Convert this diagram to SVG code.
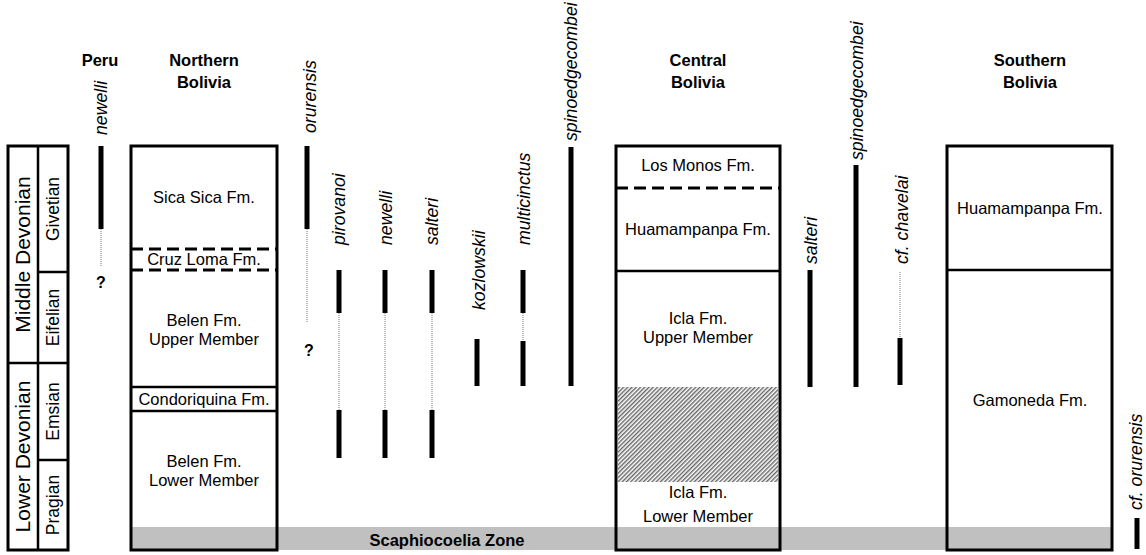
<svg xmlns="http://www.w3.org/2000/svg" width="1146" height="555" viewBox="0 0 1146 555">
<style>
.box{fill:none;stroke:#000;stroke-width:3}
.ln{stroke:#000;stroke-width:2.5;fill:none}
.dash{stroke:#000;stroke-width:3;stroke-dasharray:12 6;fill:none}
.bar{stroke:#000;stroke-width:5;fill:none}
.dot{stroke:#777;stroke-width:1;stroke-dasharray:1 1;fill:none}
.hdr{font-family:"Liberation Sans",Arial,sans-serif;font-weight:bold;font-size:16.5px;text-anchor:middle;fill:#000}
.fm{font-family:"Liberation Sans",Arial,sans-serif;font-size:16.5px;text-anchor:middle;fill:#000}
.sp{font-family:"Liberation Sans",Arial,sans-serif;font-style:italic;font-size:17.7px;text-anchor:start;fill:#000}
.era{font-family:"Liberation Sans",Arial,sans-serif;font-size:21px;text-anchor:middle;fill:#000}
.stg{font-family:"Liberation Sans",Arial,sans-serif;font-size:17.5px;text-anchor:middle;fill:#000}
.q{font-family:"Liberation Sans",Arial,sans-serif;font-weight:bold;font-size:16px;text-anchor:middle;fill:#000}
</style>
<defs>
<pattern id="hatch" width="3" height="3" patternUnits="userSpaceOnUse" patternTransform="rotate(45)">
<rect width="3" height="3" fill="#fff"/>
<line x1="0.75" y1="0" x2="0.75" y2="3" stroke="#555" stroke-width="1.3"/>
</pattern>
</defs>
<rect width="1146" height="555" fill="#fff"/>

<g id="scaphiocoelia-zone">
<rect x="131" y="527" width="981" height="23" fill="#c0c0c0"/>
<text class="hdr" x="447" y="546">Scaphiocoelia Zone</text>
</g>

<g id="stage-column">
<rect class="box" x="8" y="146" width="60" height="404"/>
<line class="ln" x1="38" y1="146" x2="38" y2="550"/>
<line class="ln" x1="38" y1="272" x2="68" y2="272"/>
<line class="ln" x1="8" y1="363" x2="68" y2="363"/>
<line class="ln" x1="38" y1="460" x2="68" y2="460"/>
<text class="era" transform="translate(30 254.5) rotate(-90)">Middle Devonian</text>
<text class="era" transform="translate(30 456.5) rotate(-90)">Lower Devonian</text>
<text class="stg" transform="translate(59 209) rotate(-90)">Givetian</text>
<text class="stg" transform="translate(59 317.5) rotate(-90)">Eifelian</text>
<text class="stg" transform="translate(59 411.5) rotate(-90)">Emsian</text>
<text class="stg" transform="translate(59 505) rotate(-90)">Pragian</text>
</g>

<g id="peru">
<text class="hdr" x="100" y="66">Peru</text>
</g>

<g id="northern-bolivia">
<text class="hdr" x="204" y="66">Northern</text>
<text class="hdr" x="204" y="88">Bolivia</text>
<line class="dash" x1="131" y1="249" x2="277" y2="249"/>
<line class="dash" x1="131" y1="270" x2="277" y2="270"/>
<line class="ln" x1="131" y1="387" x2="277" y2="387"/>
<line class="ln" x1="131" y1="411" x2="277" y2="411"/>
<rect class="box" x="131" y="146" width="146" height="404"/>
<text class="fm" x="204" y="203">Sica Sica Fm.</text>
<text class="fm" x="204" y="265">Cruz Loma Fm.</text>
<text class="fm" x="204" y="326">Belen Fm.</text>
<text class="fm" x="204" y="345">Upper Member</text>
<text class="fm" x="204" y="405">Condoriquina Fm.</text>
<text class="fm" x="204" y="467">Belen Fm.</text>
<text class="fm" x="204" y="486">Lower Member</text>
</g>

<g id="central-bolivia">
<text class="hdr" x="698" y="66">Central</text>
<text class="hdr" x="698" y="88">Bolivia</text>
<rect x="618" y="387" width="160" height="95" fill="url(#hatch)"/>
<line class="dash" x1="616" y1="188" x2="780" y2="188"/>
<line class="ln" x1="616" y1="271" x2="780" y2="271"/>
<rect class="box" x="616" y="146" width="164" height="404"/>
<text class="fm" x="698" y="171">Los Monos Fm.</text>
<text class="fm" x="698" y="235">Huamampanpa Fm.</text>
<text class="fm" x="698" y="324">Icla Fm.</text>
<text class="fm" x="698" y="343">Upper Member</text>
<text class="fm" x="698" y="498">Icla Fm.</text>
<text class="fm" x="698" y="522">Lower Member</text>
</g>

<g id="southern-bolivia">
<text class="hdr" x="1030" y="66">Southern</text>
<text class="hdr" x="1030" y="88">Bolivia</text>
<line class="ln" x1="947" y1="270" x2="1112" y2="270"/>
<rect class="box" x="947" y="146" width="165" height="404"/>
<text class="fm" x="1030" y="214">Huamampanpa Fm.</text>
<text class="fm" x="1030" y="406">Gamoneda Fm.</text>
</g>

<g id="ranges">
<!-- Peru newelli -->
<line class="bar" x1="101" y1="146" x2="101" y2="229"/>
<line class="dot" x1="101" y1="229" x2="101" y2="266"/>
<text class="q" x="101" y="288">?</text>
<text class="sp" transform="translate(107 135) rotate(-90)">newelli</text>
<!-- orurensis -->
<line class="bar" x1="307" y1="146" x2="307" y2="229"/>
<line class="dot" x1="307" y1="229" x2="307" y2="322"/>
<text class="q" x="309" y="356">?</text>
<text class="sp" transform="translate(316 133) rotate(-90)">orurensis</text>
<!-- pirovanoi -->
<line class="bar" x1="339" y1="270" x2="339" y2="313"/>
<line class="dot" x1="339" y1="313" x2="339" y2="410"/>
<line class="bar" x1="339" y1="410" x2="339" y2="458"/>
<text class="sp" transform="translate(345 245) rotate(-90)">pirovanoi</text>
<!-- newelli -->
<line class="bar" x1="385" y1="270" x2="385" y2="313"/>
<line class="dot" x1="385" y1="313" x2="385" y2="410"/>
<line class="bar" x1="385" y1="410" x2="385" y2="458"/>
<text class="sp" transform="translate(392 245) rotate(-90)">newelli</text>
<!-- salteri -->
<line class="bar" x1="432" y1="270" x2="432" y2="313"/>
<line class="dot" x1="432" y1="313" x2="432" y2="410"/>
<line class="bar" x1="432" y1="410" x2="432" y2="458"/>
<text class="sp" transform="translate(438 245) rotate(-90)">salteri</text>
<!-- kozlowskii -->
<line class="bar" x1="477" y1="339" x2="477" y2="386"/>
<text class="sp" transform="translate(485 310) rotate(-90)">kozlowskii</text>
<!-- multicinctus -->
<line class="bar" x1="523" y1="270" x2="523" y2="313"/>
<line class="dot" x1="523" y1="313" x2="523" y2="341"/>
<line class="bar" x1="523" y1="341" x2="523" y2="386"/>
<text class="sp" transform="translate(530 245) rotate(-90)">multicinctus</text>
<!-- spinoedgecombei N -->
<line class="bar" x1="571" y1="147" x2="571" y2="386"/>
<text class="sp" transform="translate(577 141) rotate(-90)">spinoedgecombei</text>
<!-- salteri C -->
<line class="bar" x1="810" y1="270" x2="810" y2="387"/>
<text class="sp" transform="translate(817 264) rotate(-90)">salteri</text>
<!-- spinoedgecombei C -->
<line class="bar" x1="856" y1="165" x2="856" y2="387"/>
<text class="sp" transform="translate(863 160) rotate(-90)">spinoedgecombei</text>
<!-- cf. chavelai -->
<line class="dot" x1="900" y1="272" x2="900" y2="338"/>
<line class="bar" x1="900" y1="338" x2="900" y2="385"/>
<text class="sp" transform="translate(908 264) rotate(-90)">cf. chavelai</text>
<!-- cf. orurensis -->
<line class="bar" x1="1137" y1="518" x2="1137" y2="549"/>
<text class="sp" transform="translate(1142 510) rotate(-90)">cf. orurensis</text>
</g>
</svg>
